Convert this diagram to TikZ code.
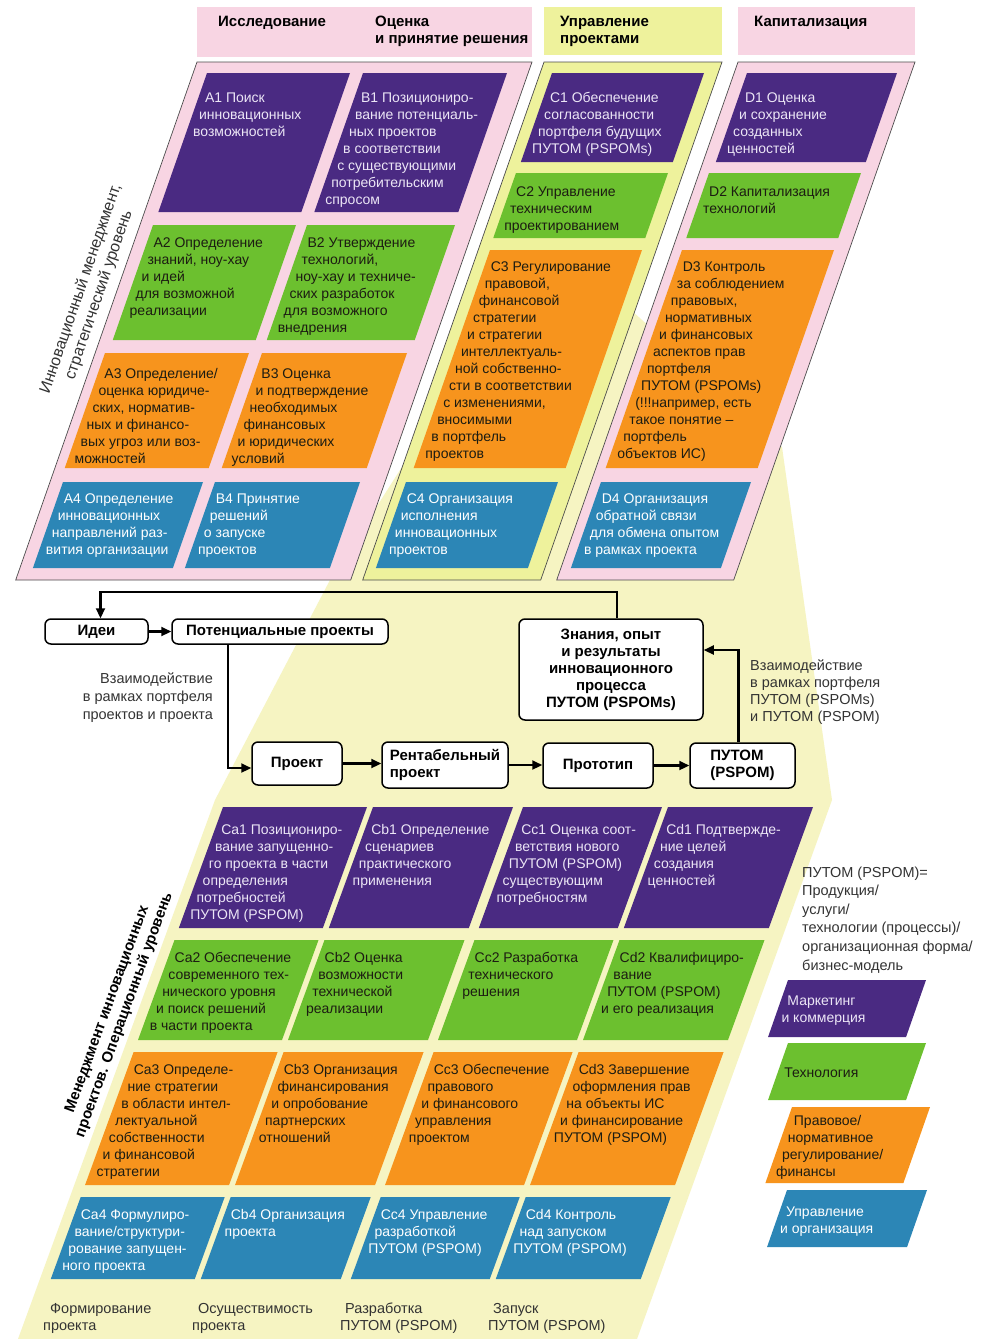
\documentclass[tikz,border=0pt]{standalone}
\usepackage{fontspec}
\setmainfont{Liberation Sans}
\usetikzlibrary{arrows.meta}
\definecolor{cPur}{HTML}{4A2A82}
\definecolor{cGrn}{HTML}{6CC02F}
\definecolor{cOrg}{HTML}{F7941D}
\definecolor{cBlu}{HTML}{2C86B6}
\definecolor{cPink}{HTML}{F8D5E3}
\definecolor{cYel}{HTML}{EEF29C}
\definecolor{cPale}{HTML}{F6F4C2}
\definecolor{tLight}{HTML}{ECE6F6}
\definecolor{tDark}{HTML}{1C1C12}
\definecolor{tGray}{HTML}{333333}
\def\myslant{0.35}
% slanted cell: #1 name, #2 fill, #3 text colour, #4 ytop, #5 ybot, #6 xL(top), #7 xR(top), #8 first baseline, #9 lines
\newcommand\cellbox[9]{%
  \fill[#2] (#6,#4) -- (#7,#4) -- ({#7-\myslant*(#5-#4)},#5) -- ({#6-\myslant*(#5-#4)},#5) -- cycle;
  \foreach \myline [count=\i from 0] in {#9}
    \node[ctext, text=#3] (#1-\i) at ({#6-\myslant*(#8+17*\i-#4)+8},{#8+17*\i}) {\myline};
}
% text lines: #1 name, #2 x, #3 y, #4 dx, #5 dy, #6 options, #7 lines
\newcommand\textlines[7]{%
  \foreach \myline [count=\i from 0] in {#7}
    \node[ltext, #6] (#1-\i) at ({#2+(#4)*\i},{#3+(#5)*\i}) {\myline};
}
\begin{document}
\begin{tikzpicture}[x=1pt,y=-1pt,
  ctext/.style={anchor=base west, inner sep=0pt, font=\fontsize{14}{16}\selectfont},
  ltext/.style={inner sep=0pt, font=\fontsize{14.5}{16}\selectfont, text=tGray},
  htext/.style={inner sep=0pt, font=\bfseries\fontsize{15}{17}\selectfont, text=black, anchor=base west},
  flowbox/.style={draw=black, line width=1.5pt, rounded corners=6pt, fill=white, inner sep=0pt,
    font=\bfseries\fontsize{15}{17}\selectfont, align=center},
  arr/.style={line width=2.2pt, -{Triangle[length=10pt,width=9pt]}},
  panel/.style={draw=black!70, line width=0.7pt}
]
\useasboundingbox (0,0) rectangle (985,1339);
\fill[white] (0,0) rectangle (985,1339);

% funnel + operational panel
\fill[cPale] (470,360) -- (620,300) -- (782,447) -- (832,800) -- (637,1339) -- (18,1339) -- (215,800) -- (330,580) -- cycle;

% strategic panels
\filldraw[panel, fill=cPink] (197,62) -- (532,62) -- (350.7,580) -- (15.7,580) -- cycle;
\filldraw[panel, fill=cYel] (544,62) -- (722,62) -- (540.7,580) -- (362.7,580) -- cycle;
\filldraw[panel, fill=cPink] (738,62) -- (915,62) -- (733.7,580) -- (556.7,580) -- cycle;

% headers
\fill[cPink] (197,7) rectangle (532,57);
\fill[cYel] (544,7) rectangle (722,55);
\fill[cPink] (738,7) rectangle (915,55);
\textlines{hdA}{218}{26}{0}{17}{htext}{{Исследование}}
\textlines{hdB}{375}{26}{0}{17}{htext}{{Оценка},{и принятие решения}}
\textlines{hdC}{560}{26}{0}{17}{htext}{{Управление},{проектами}}
\textlines{hdD}{754}{26}{0}{17}{htext}{{Капитализация}}

% strategic cells
\cellbox{A1}{cPur}{tLight}{73}{212}{207}{350}{102}{{A1 Поиск},{инновационных},{возможностей}}
\cellbox{B1}{cPur}{tLight}{73}{212}{363}{507}{102}{{B1 Позициониро-},{вание потенциаль-},{ных проектов},{в соответствии},{с существующими},{потребительским},{спросом}}
\cellbox{C1}{cPur}{tLight}{73}{162}{552}{704}{102}{{C1 Обеспечение},{согласованности},{портфеля будущих},{ПУТОМ (PSPOMs)}}
\cellbox{D1}{cPur}{tLight}{73}{162}{747}{897}{102}{{D1 Оценка},{и сохранение},{созданных},{ценностей}}
\cellbox{A2}{cGrn}{tDark}{225}{340}{153}{296}{247}{{A2 Определение},{знаний, ноу-хау},{и идей},{для возможной},{реализации}}
\cellbox{B2}{cGrn}{tDark}{225}{340}{307}{455}{247}{{B2 Утверждение},{технологий,},{ноу-хау и техниче-},{ских разработок},{для возможного},{внедрения}}
\cellbox{C2}{cGrn}{tDark}{173}{238}{516}{668}{196}{{C2 Управление},{техническим},{проектированием}}
\cellbox{D2}{cGrn}{tDark}{173}{238}{709}{861}{196}{{D2 Капитализация},{технологий}}
\cellbox{A3}{cOrg}{tDark}{353}{468}{105}{249}{378}{{A3 Определение/},{оценка юридиче-},{ских, норматив-},{ных и финансо-},{вых угроз или воз-},{можностей}}
\cellbox{B3}{cOrg}{tDark}{353}{468}{262}{407}{378}{{B3 Оценка},{и подтверждение},{необходимых},{финансовых},{и юридических},{условий}}
\cellbox{C3}{cOrg}{tDark}{250}{468}{490}{642}{271}{{C3 Регулирование},{правовой,},{финансовой},{стратегии},{и стратегии},{интеллектуаль-},{ной собственно-},{сти в соответствии},{с изменениями,},{вносимыми},{в портфель},{проектов}}
\cellbox{D3}{cOrg}{tDark}{250}{468}{682}{834}{271}{{D3 Контроль},{за соблюдением},{правовых,},{нормативных},{и финансовых},{аспектов прав},{портфеля},{ПУТОМ (PSPOMs)},{(!!!например, есть},{такое понятие –},{портфель},{объектов ИС)}}
\cellbox{A4}{cBlu}{white}{482}{568}{63}{203}{503}{{A4 Определение},{инновационных},{направлений раз-},{вития организации}}
\cellbox{B4}{cBlu}{white}{482}{568}{215}{360}{503}{{B4 Принятие},{решений},{о запуске},{проектов}}
\cellbox{C4}{cBlu}{white}{482}{568}{406}{558}{503}{{C4 Организация},{исполнения},{инновационных},{проектов}}
\cellbox{D4}{cBlu}{white}{482}{568}{601}{751}{503}{{D4 Организация},{обратной связи},{для обмена опытом},{в рамках проекта}}

% operational cells
\def\myslant{0.365}
\cellbox{Ca1}{cPur}{tLight}{807}{928}{223}{367}{834}{{Ca1 Позициониро-},{вание запущенно-},{го проекта в части},{определения},{потребностей},{ПУТОМ (PSPOM)}}
\cellbox{Cb1}{cPur}{tLight}{807}{928}{373}{513}{834}{{Cb1 Определение},{сценариев},{практического},{применения}}
\cellbox{Cc1}{cPur}{tLight}{807}{928}{523}{662}{834}{{Cc1 Оценка соот-},{ветствия нового},{ПУТОМ (PSPOM)},{существующим},{потребностям}}
\cellbox{Cd1}{cPur}{tLight}{807}{928}{668}{813}{834}{{Cd1 Подтвержде-},{ние целей},{создания},{ценностей}}
\cellbox{Ca2}{cGrn}{tDark}{940}{1040}{174.5}{318.5}{962}{{Ca2 Обеспечение},{современного тех-},{нического уровня},{и поиск решений},{в части проекта}}
\cellbox{Cb2}{cGrn}{tDark}{940}{1040}{324.5}{464.5}{962}{{Cb2 Оценка},{возможности},{технической},{реализации}}
\cellbox{Cc2}{cGrn}{tDark}{940}{1040}{474.5}{613.5}{962}{{Cc2 Разработка},{технического},{решения}}
\cellbox{Cd2}{cGrn}{tDark}{940}{1040}{619.5}{764.5}{962}{{Cd2 Квалифициро-},{вание},{ПУТОМ (PSPOM)},{и его реализация}}
\cellbox{Ca3}{cOrg}{tDark}{1052}{1185}{133.6}{277.6}{1074}{{Ca3 Определе-},{ние стратегии},{в области интел-},{лектуальной},{собственности},{и финансовой},{стратегии}}
\cellbox{Cb3}{cOrg}{tDark}{1052}{1185}{283.6}{423.6}{1074}{{Cb3 Организация},{финансирования},{и опробование},{партнерских},{отношений}}
\cellbox{Cc3}{cOrg}{tDark}{1052}{1185}{433.6}{572.6}{1074}{{Cc3 Обеспечение},{правового},{и финансового},{управления},{проектом}}
\cellbox{Cd3}{cOrg}{tDark}{1052}{1185}{578.6}{723.6}{1074}{{Cd3 Завершение},{оформления прав},{на объекты ИС},{и финансирование},{ПУТОМ (PSPOM)}}
\cellbox{Ca4}{cBlu}{white}{1197}{1279}{80.7}{224.7}{1219}{{Ca4 Формулиро-},{вание/структури-},{рование запущен-},{ного проекта}}
\cellbox{Cb4}{cBlu}{white}{1197}{1279}{230.7}{370.7}{1219}{{Cb4 Организация},{проекта}}
\cellbox{Cc4}{cBlu}{white}{1197}{1279}{380.7}{519.7}{1219}{{Cc4 Управление},{разработкой},{ПУТОМ (PSPOM)}}
\cellbox{Cd4}{cBlu}{white}{1197}{1279}{525.7}{670.7}{1219}{{Cd4 Контроль},{над запуском},{ПУТОМ (PSPOM)}}

% phase labels
\textlines{ph1}{50}{1313}{-7}{17}{anchor=base west}{{Формирование},{проекта}}
\textlines{ph2}{198}{1313}{-6}{17}{anchor=base west}{{Осуществимость},{проекта}}
\textlines{ph3}{345}{1313}{-5}{17}{anchor=base west}{{Разработка},{ПУТОМ (PSPOM)}}
\textlines{ph4}{493}{1313}{-5}{17}{anchor=base west}{{Запуск},{ПУТОМ (PSPOM)}}

% legend
\def\myslant{0.35}
\textlines{def}{802}{877}{0}{18.6}{anchor=base west}{{ПУТОМ (PSPOM)=},{Продукция/},{услуги/},{технологии (процессы)/},{организационная форма/},{бизнес-модель}}
\cellbox{Lp}{cPur}{tLight}{980}{1037}{788}{926}{1005}{{Маркетинг},{и коммерция}}
\cellbox{Lg}{cGrn}{tDark}{1043}{1100}{788}{926}{1077}{{Технология}}
\cellbox{Lo}{cOrg}{tDark}{1107}{1183}{792}{930}{1125}{{Правовое/},{нормативное},{регулирование/},{финансы}}
\cellbox{Lb}{cBlu}{white}{1190}{1247}{787}{927}{1216}{{Управление},{и организация}}

% rotated level labels
\node[ltext, rotate=71, align=center, font=\fontsize{16}{19}\selectfont] (strat) at (90,292) {Инновационный менеджмент,\\стратегический уровень};
\node[ltext, rotate=70, align=center, text=black, font=\bfseries\fontsize{15}{18}\selectfont] (oper) at (116,1012) {Менеджмент инновационных\\проектов. Операционный уровень};

% flow chart
\node[flowbox, minimum width=103pt, minimum height=25pt] (ideas) at (96.5,631.5) {Идеи};
\node[flowbox, minimum width=216pt, minimum height=25pt] (pot) at (280,631.5) {Потенциальные проекты};
\node[flowbox, minimum width=90pt, minimum height=43pt] (proj) at (297,763.5) {Проект};
\node[flowbox, minimum width=126pt, minimum height=46pt, align=left] (rent) at (445,765) {Рентабельный\\проект};
\node[flowbox, minimum width=110pt, minimum height=45pt] (proto) at (598,765.5) {Прототип};
\node[flowbox, minimum width=105pt, minimum height=45pt, align=left] (putom) at (742.5,765.5) {ПУТОМ\\(PSPOM)};
\node[flowbox, minimum width=184pt, minimum height=101pt] (know) at (611,669.5) {Знания, опыт\\и результаты\\инновационного\\процесса\\ПУТОМ (PSPOMs)};

\draw[arr] (ideas) -- (pot);
\draw[arr] ([xshift=6pt]know.north) -- ++(0,-26) -| ([xshift=4pt]ideas.north);
\draw[arr] ([xshift=-52pt]pot.south) |- ([yshift=-4.5pt]proj.west);
\draw[arr] (proj.east) -- (proj.east -| rent.west);
\draw[arr] (rent.east) -- (rent.east -| proto.west);
\draw[arr] (proto.east) -- (proto.east -| putom.west);
\draw[arr] ([xshift=-4pt]putom.north) |- ([yshift=19.5pt]know.east);

\textlines{lblL}{213}{683}{0}{18}{anchor=base east}{{Взаимодействие},{в рамках портфеля},{проектов и проекта}}
\textlines{lblR}{750}{670}{0}{17}{anchor=base west}{{Взаимодействие},{в рамках портфеля},{ПУТОМ (PSPOMs)},{и ПУТОМ (PSPOM)}}
\end{tikzpicture}
\end{document}
